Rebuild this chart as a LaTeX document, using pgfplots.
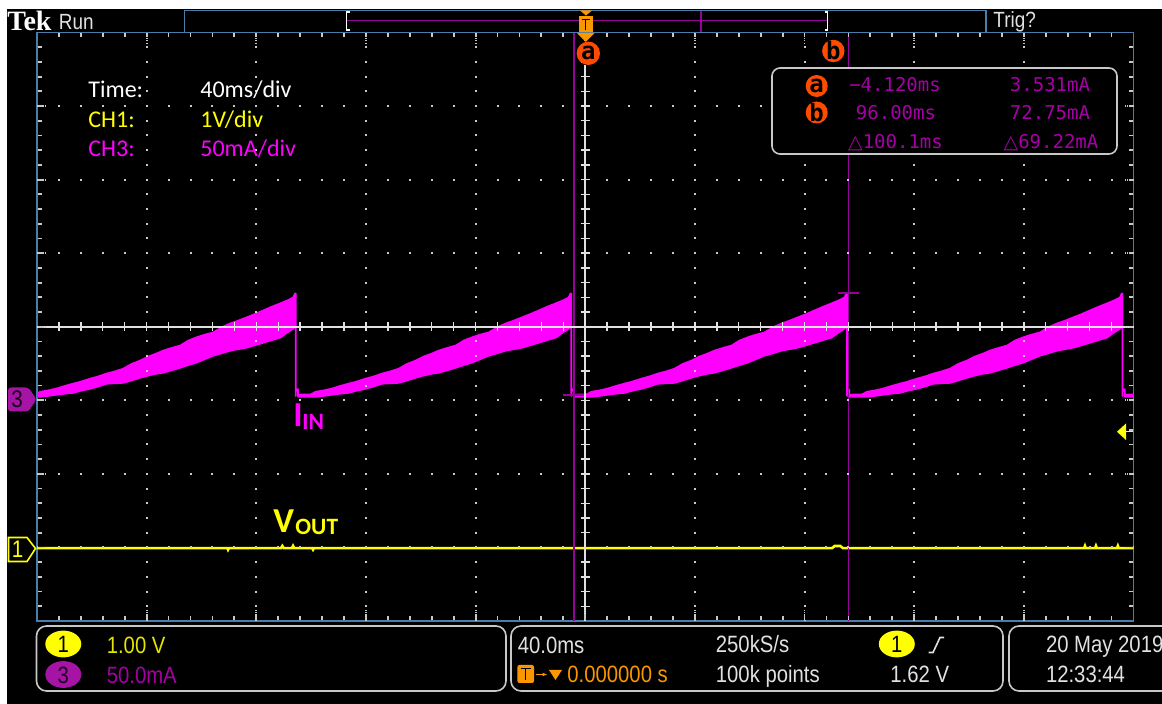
\documentclass[border=0pt]{standalone}
\usepackage{pgfplots}
\pgfplotsset{compat=1.18}
\usepackage{pgfplotstable}
\usetikzlibrary{arrows.meta}
\usepackage{fontspec}
\setmainfont{Carlito}
\newfontfamily\tekfont[FakeStretch=0.86]{Liberation Sans}
\newfontfamily\readfont{DejaVu Sans Mono}
\newfontfamily\symfont{DejaVu Sans}
\newfontfamily\logofont{Liberation Serif}

\definecolor{tekblue}{RGB}{75,125,170}
\definecolor{tekmag}{RGB}{255,0,255}
\definecolor{curpur}{RGB}{150,0,155}
\definecolor{readpur}{RGB}{165,0,165}
\definecolor{tekyel}{RGB}{255,255,0}
\definecolor{tekorange}{RGB}{250,150,0}
\definecolor{tekred}{RGB}{255,75,0}
\definecolor{gratgray}{RGB}{200,200,200}
\definecolor{boxgray}{RGB}{200,200,200}
\definecolor{chpur}{RGB}{165,20,165}
\definecolor{txtgray}{RGB}{225,225,225}

% one period of I_IN (mA) vs time since the previous drop (ms):
% upper edge of the ripple band forward, lower edge back
\pgfplotstableread{
t i
0 7.5
0.8 7.5
0.8 3.8
5.5 4.0
7.3 5.8
10.0 6.6
13.1 7.9
16.0 9.6
19.3 11.3
22.0 12.6
25.5 14.7
28.5 16.2
31.4 18.1
34.5 19.6
37.6 21.5
40.5 24.6
43.8 27.0
46.5 29.6
49.6 31.7
52.2 33.8
55.3 35.6
58.4 37.2
61.3 40.6
64.2 42.7
67.3 44.6
70.4 46.1
73.5 49.6
76.6 52.2
79.5 54.1
82.5 56.3
85.6 58.6
88.7 61.1
91.8 63.6
94.9 65.9
97.5 67.9
99.6 69.9
100.2 72.5
100.5 72.5
100.5 3.0
100.5 50.2
99.6 48.8
97.0 45.6
94.9 42.7
91.8 41.0
88.7 39.2
85.6 37.5
82.5 35.8
79.5 34.8
76.6 33.8
73.5 32.0
70.4 30.4
67.3 28.0
64.2 25.6
61.3 24.0
58.4 22.2
55.3 20.5
52.2 18.8
49.6 18.1
46.5 16.8
43.8 15.4
40.5 13.5
37.6 11.9
34.5 11.6
31.4 11.3
28.5 9.5
25.5 7.9
22.0 6.5
19.3 5.1
16.0 4.5
13.1 3.8
10.0 3.0
7.3 2.4
5.5 2.4
0.8 2.4
0.8 6.5
0 6.5
}\ramp

% V_OUT (V) vs time (ms)
\pgfplotstableread{
t v
-200 -0.01
-130.5 -0.01
-130.3 -0.03
-130.0 -0.01
-111.0 -0.01
-110.5 0.02
-110.0 -0.01
-107.0 -0.01
-106.6 0.02
-106.2 -0.01
-99.6 -0.01
-99.3 -0.03
-99.0 -0.01
90.0 -0.01
91.0 0.02
93.0 0.02
94.0 -0.01
182.0 -0.01
182.3 0.02
182.6 -0.01
186.0 -0.01
186.3 0.02
186.6 -0.01
194.0 -0.01
194.3 0.02
194.6 -0.01
200 -0.01
}\vout

\begin{document}
\begin{tikzpicture}
\path[use as bounding box] (0pt,0pt) rectangle (581pt,-352pt);
\begin{scope}[x=0.5pt,y=-0.5pt]
\fill[white] (0,0) rectangle (1162,704);
\fill[black] (7,9.5) rectangle (1162,704);
\end{scope}

\begin{axis}[
  at={(18.5pt,-310.5pt)}, anchor=south west,
  scale only axis, width=548.25pt, height=294.25pt,
  xmin=-200, xmax=200, ymin=-150, ymax=250,
  xtick=\empty, ytick=\empty,
  axis line style={draw=tekblue, line width=0.75pt},
  clip mode=individual,
]
% CH1: 1 V/div, ground 3 div below centre -> mA-equivalent = 50*(v-2)
\addplot[tekyel, line width=1.3pt] table[x=t, y expr=50*(\thisrow{v}-2)] {\vout};
% CH3: I_IN, 50 mA/div
\addplot[draw=tekmag, fill=tekmag, line width=0.9pt, line join=round] table[x expr=\thisrow{t}-206.1, y=i] {\ramp};
\addplot[draw=tekmag, fill=tekmag, line width=0.9pt, line join=round] table[x expr=\thisrow{t}-105.6, y=i] {\ramp};
\addplot[draw=tekmag, fill=tekmag, line width=0.9pt, line join=round] table[x expr=\thisrow{t}-5.0, y=i] {\ramp};
\addplot[draw=tekmag, fill=tekmag, line width=0.9pt, line join=round] table[x expr=\thisrow{t}+95.5, y=i] {\ramp};
\addplot[draw=tekmag, fill=tekmag, line width=0.9pt, line join=round] table[x expr=\thisrow{t}+196.0, y=i] {\ramp};
% cursors a and b
\addplot[curpur, line width=0.6pt] coordinates {(-4.12,-150) (-4.12,250)};
\addplot[curpur, line width=0.6pt] coordinates {(96.00,-150) (96.00,250)};
\addplot[curpur, line width=0.8pt] coordinates {(-8.0,3.531) (-0.2,3.531)};
\addplot[curpur, line width=0.8pt] coordinates {(92.1,72.75) (99.9,72.75)};
\end{axis}

\begin{scope}[x=0.5pt,y=-0.5pt, every node/.style={inner sep=0pt}]
% graticule dots
\foreach \i in {1,2,3,4,6,7,8,9}
  \draw[gratgray, line width=1pt, dash pattern=on 1pt off 6.35625pt, dash phase=0.5pt]
    ({37+109.65*\i},32.5) -- ({37+109.65*\i},621);
\foreach \j in {1,2,3,5,6,7}
  \draw[gratgray, line width=1pt, dash pattern=on 1pt off 9.965pt, dash phase=0.5pt]
    (37,{32.5+73.5625*\j}) -- (1133.5,{32.5+73.5625*\j});
% centre lines
\draw[txtgray, line width=0.8pt] (37,326.75) -- (1133.5,326.75);
\draw[txtgray, line width=0.8pt] (585.25,65) -- (585.25,621);
\foreach \k in {1,...,49} {
  \draw[gratgray, line width=0.9pt] ({37+21.93*\k},33) -- ++(0,4);
  \draw[gratgray, line width=0.9pt] ({37+21.93*\k},620.5) -- ++(0,-4);
  \draw[txtgray, line width=0.7pt] ({37+21.93*\k},322) -- ++(0,9.5);
}
\foreach \k in {1,...,39} {
  \draw[gratgray, line width=0.9pt] (37.5,{32.5+14.7125*\k}) -- ++(4,0);
  \draw[gratgray, line width=0.9pt] (1133,{32.5+14.7125*\k}) -- ++(-4,0);
  \draw[txtgray, line width=0.7pt] (580.5,{32.5+14.7125*\k}) -- ++(9.5,0);
}
\foreach \i in {1,...,9} {
  \draw[gratgray, line width=0.9pt, dash pattern=on 0.6pt off 0.6pt] ({37+109.65*\i},33) -- ++(0,11);
  \draw[gratgray, line width=0.9pt, dash pattern=on 0.6pt off 0.6pt] ({37+109.65*\i},620.5) -- ++(0,-11);
}
\foreach \j in {1,...,7} {
  \draw[gratgray, line width=0.9pt, dash pattern=on 0.6pt off 0.6pt] (37.5,{32.5+73.5625*\j}) -- ++(8,0);
  \draw[gratgray, line width=0.9pt, dash pattern=on 0.6pt off 0.6pt] (1133,{32.5+73.5625*\j}) -- ++(-8,0);
}

% top bar
\node[anchor=base west, text=white] at (7,31) {\logofont\bfseries\fontsize{14}{14}\selectfont Tek};
\node[anchor=base west, text=txtgray] at (58.5,29.5) {\tekfont\fontsize{11}{11}\selectfont Run};
\node[anchor=base west, text=txtgray] at (993,27.5) {\tekfont\fontsize{11}{11}\selectfont Trig?};
\draw[tekblue, line width=0.75pt] (184.5,32.5) -- (184.5,10.5) -- (986,10.5) -- (986,32.5);
\draw[tekblue, line width=0.75pt] (37,32.5) -- (1133.5,32.5);
\draw[curpur, line width=0.8pt] (347,20.5) -- (827,20.5);
\draw[curpur, line width=0.8pt] (701,11) -- (701,32);
\draw[white, line width=0.9pt] (349.5,12) -- (346.5,12) -- (346.5,30) -- (349.5,30);
\draw[white, line width=0.9pt] (824.5,12) -- (827.5,12) -- (827.5,30) -- (824.5,30);
% trigger position marker
\fill[tekorange] (580,10.5) -- (592,10.5) -- (586,15.5) -- cycle;
\fill[tekorange] (579,16.5) rectangle (592.5,32);
\draw[black, line width=0.6pt] (581.5,19.5) -- (590,19.5) (585.75,19.5) -- (585.75,30);
\fill[tekorange] (577,33) -- (594.5,33) -- (585.75,42) -- cycle;
% cursor flags
\fill[tekred] (588.3,53.3) circle[radius=11.7];
\node at (588.3,53.3) {\readfont\bfseries\fontsize{12}{12}\selectfont a};
\fill[tekred] (833.3,51) circle[radius=11.2];
\node at (833.3,51) {\readfont\bfseries\fontsize{12}{12}\selectfont b};

% settings text
\node[anchor=base west, text=white] at (88,97.3) {\fontsize{12}{12}\selectfont Time:};
\node[anchor=base west, text=white] at (200,97.3) {\fontsize{12}{12}\selectfont 40ms/div};
\node[anchor=base west, text=tekyel] at (88,127.8) {\fontsize{12}{12}\selectfont CH1:};
\node[anchor=base west, text=tekyel] at (200,127.8) {\fontsize{12}{12}\selectfont 1V/div};
\node[anchor=base west, text=tekmag] at (88,156.5) {\fontsize{12}{12}\selectfont CH3:};
\node[anchor=base west, text=tekmag] at (200,156.5) {\fontsize{12}{12}\selectfont 50mA/div};

% cursor readout
\draw[boxgray, line width=0.8pt, fill=black, rounded corners=4pt] (772,68) rectangle (1117,154);
\fill[tekred] (816.7,86) circle[radius=11];
\node at (816.7,86) {\readfont\bfseries\fontsize{12}{12}\selectfont a};
\fill[tekred] (816.7,112.5) circle[radius=11];
\node at (816.7,112.5) {\readfont\bfseries\fontsize{12}{12}\selectfont b};
\node[anchor=base, text=readpur] at (895,91.7) {\readfont\fontsize{9.5}{9.5}\selectfont −4.120ms};
\node[anchor=base, text=readpur] at (1050,91.7) {\readfont\fontsize{9.5}{9.5}\selectfont 3.531mA};
\node[anchor=base, text=readpur] at (896,120) {\readfont\fontsize{9.5}{9.5}\selectfont 96.00ms};
\node[anchor=base, text=readpur] at (1050,120) {\readfont\fontsize{9.5}{9.5}\selectfont 72.75mA};
\node[anchor=base, text=readpur] at (895.5,148.3) {\fontsize{9.5}{9.5}\selectfont{\symfont △}\readfont 100.1ms};
\node[anchor=base, text=readpur] at (1051,148.3) {\fontsize{9.5}{9.5}\selectfont{\symfont △}\readfont 69.22mA};

% trace labels
\node[anchor=base west, text=tekmag] at (293,427) {\bfseries\fontsize{17.5}{17.5}\selectfont I};
\node[anchor=base west, text=tekmag] at (302,430) {\bfseries\fontsize{11.7}{11.7}\selectfont IN};
\node[anchor=base west, text=tekyel] at (273,533) {\bfseries\fontsize{17.5}{17.5}\selectfont V};
\node[anchor=base west, text=tekyel] at (295,535) {\bfseries\fontsize{11.7}{11.7}\selectfont OUT};

% channel markers
\fill[chpur, rounded corners=1.5pt] (8,387.5) -- (28.5,387.5) -- (36.5,399.5) -- (28.5,411.5) -- (8,411.5) -- cycle;
\node at (17,399.5) {\tekfont\fontsize{12}{12}\selectfont\color{black!85!chpur}3};
\draw[tekyel, line width=0.8pt, fill=black] (8.5,537.5) -- (27,537.5) -- (35.5,548.5) -- (27,561.5) -- (8.5,561.5) -- cycle;
\node at (17.5,549.5) {\tekfont\fontsize{12}{12}\selectfont\color{tekyel}1};
\fill[tekyel] (1117,431.7) -- (1126,423.5) -- (1126,440) -- cycle;
\draw[tekyel, line width=0.5pt] (1126,431.7) -- (1133,431.7);

% bottom status boxes
\draw[boxgray, line width=0.8pt, rounded corners=5pt] (36.5,626) rectangle (506,691);
\draw[boxgray, line width=0.8pt, rounded corners=5pt] (511,626) rectangle (1003,691);
\draw[boxgray, line width=0.8pt, rounded corners=5pt] (1009,626) rectangle (1200,691);
\fill[tekyel] (63.3,644) ellipse[x radius=18, y radius=13.4];
\node at (63.3,644.5) {\tekfont\fontsize{11.8}{11.8}\selectfont\color{black}1};
\fill[chpur] (63.3,674.5) ellipse[x radius=18, y radius=13.4];
\node at (63.3,675) {\tekfont\fontsize{11.8}{11.8}\selectfont\color{black!80!chpur}3};
\node[anchor=base west, text=tekyel!90!black] at (106.4,653.6) {\tekfont\fontsize{11.8}{11.8}\selectfont 1.00 V};
\node[anchor=base west, text=readpur] at (106.4,683.4) {\tekfont\fontsize{11.8}{11.8}\selectfont 50.0mA};
\node[anchor=base west, text=txtgray] at (517.4,653.6) {\tekfont\fontsize{11.8}{11.8}\selectfont 40.0ms};
\fill[tekorange, rounded corners=1pt] (517.4,665) rectangle (534,683);
\draw[black, line width=0.7pt] (520.5,668.5) -- (531,668.5) (525.75,668.5) -- (525.75,680.5);
\draw[tekorange, line width=0.9pt, -{Latex[length=2.5pt]}] (535.5,674.5) -- (547.5,674.5);
\fill[tekorange] (549,670) -- (562,670) -- (555.5,680) -- cycle;
\node[anchor=base west, text=tekorange] at (567,682.5) {\tekfont\fontsize{11.8}{11.8}\selectfont 0.000000 s};
\node[anchor=base west, text=txtgray] at (715.5,653) {\tekfont\fontsize{11.8}{11.8}\selectfont 250kS/s};
\node[anchor=base west, text=txtgray] at (715.5,682.5) {\tekfont\fontsize{11.8}{11.8}\selectfont 100k points};
\fill[tekyel] (896.8,644) ellipse[x radius=18, y radius=13.4];
\node at (896.8,644.5) {\tekfont\fontsize{11.8}{11.8}\selectfont\color{black}1};
\draw[txtgray, line width=0.8pt] (928.5,652.5) -- (933,652.5) -- (940,637.5) -- (944,637.5);
\node[anchor=base west, text=txtgray] at (890,682.5) {\tekfont\fontsize{11.8}{11.8}\selectfont 1.62 V};
\node[anchor=base west, text=txtgray] at (1045.6,653) {\tekfont\fontsize{11.8}{11.8}\selectfont 20 May 2019};
\node[anchor=base west, text=txtgray] at (1045.6,682.5) {\tekfont\fontsize{11.8}{11.8}\selectfont 12:33:44};
\end{scope}
\end{tikzpicture}
\end{document}
